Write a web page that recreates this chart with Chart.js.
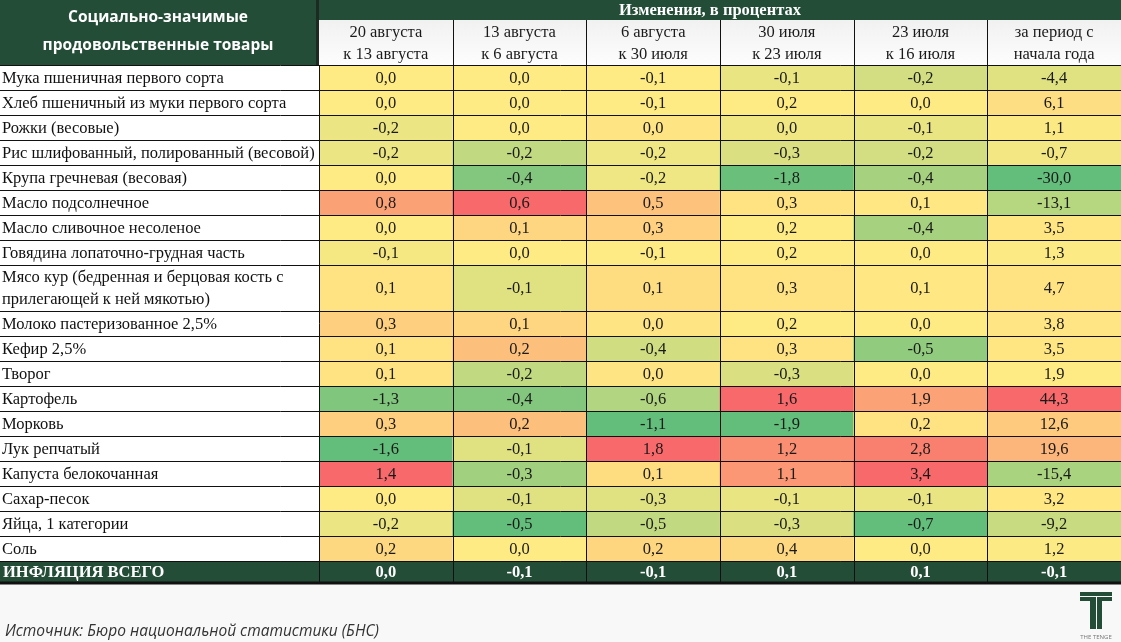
<!DOCTYPE html>
<html><head><meta charset="utf-8">
<script src="https://cdn.jsdelivr.net/npm/chart.js@4.4.1/dist/chart.umd.min.js"></script>
<style>html,body{margin:0;padding:0;background:#f8f8f8;overflow:hidden}#wrap{width:1121px;height:642px;position:relative}canvas{display:block}</style>
</head><body><div id="wrap"><canvas id="c" width="1121" height="642"></canvas></div>
<script>
// ---------- DATA ----------
const headerLeft = ["Социально-значимые", "продовольственные товары"];
const headerTop = "Изменения, в процентах";
const columnHeaders = [
  ["20 августа", "к 13 августа"],
  ["13 августа", "к 6 августа"],
  ["6 августа", "к 30 июля"],
  ["30 июля", "к 23 июля"],
  ["23 июля", "к 16 июля"],
  ["за период с", "начала года"]
];
const products = [
  "Мука пшеничная первого сорта",
  "Хлеб пшеничный из муки первого сорта",
  "Рожки (весовые)",
  "Рис шлифованный, полированный (весовой)",
  "Крупа гречневая (весовая)",
  "Масло подсолнечное",
  "Масло сливочное несоленое",
  "Говядина лопаточно-грудная часть",
  "Мясо кур (бедренная и берцовая кость с\nприлегающей к ней мякотью)",
  "Молоко пастеризованное 2,5%",
  "Кефир 2,5%",
  "Творог",
  "Картофель",
  "Морковь",
  "Лук репчатый",
  "Капуста белокочанная",
  "Сахар-песок",
  "Яйца, 1 категории",
  "Соль"
];
const aug20vsAug13 = [0.0, 0.0, -0.2, -0.2, 0.0, 0.8, 0.0, -0.1, 0.1, 0.3, 0.1, 0.1, -1.3, 0.3, -1.6, 1.4, 0.0, -0.2, 0.2];
const aug13vsAug06 = [0.0, 0.0, 0.0, -0.2, -0.4, 0.6, 0.1, 0.0, -0.1, 0.1, 0.2, -0.2, -0.4, 0.2, -0.1, -0.3, -0.1, -0.5, 0.0];
const aug06vsJul30 = [-0.1, -0.1, 0.0, -0.2, -0.2, 0.5, 0.3, -0.1, 0.1, 0.0, -0.4, 0.0, -0.6, -1.1, 1.8, 0.1, -0.3, -0.5, 0.2];
const jul30vsJul23 = [-0.1, 0.2, 0.0, -0.3, -1.8, 0.3, 0.2, 0.2, 0.3, 0.2, 0.3, -0.3, 1.6, -1.9, 1.2, 1.1, -0.1, -0.3, 0.4];
const jul23vsJul16 = [-0.2, 0.0, -0.1, -0.2, -0.4, 0.1, -0.4, 0.0, 0.1, 0.0, -0.5, 0.0, 1.9, 0.2, 2.8, 3.4, -0.1, -0.7, 0.0];
const sinceYearStart = [-4.4, 6.1, 1.1, -0.7, -30.0, -13.1, 3.5, 1.3, 4.7, 3.8, 3.5, 1.9, 44.3, 12.6, 19.6, -15.4, 3.2, -9.2, 1.2];
const totalLabel = "ИНФЛЯЦИЯ ВСЕГО";
const inflationTotal = [0.0, -0.1, -0.1, 0.1, 0.1, -0.1];
const sourceNote = "Источник: Бюро национальной статистики (БНС)";

// ---------- STYLE / LAYOUT ----------
const columns = [aug20vsAug13, aug13vsAug06, aug06vsJul30, jul30vsJul23, jul23vsJul16, sinceYearStart];
const DARK = "#244d37";
const SERIF = "'Liberation Serif','Times New Roman',serif";
const SANS = "'Open Sans','Noto Sans',sans-serif";
const BODY_FONT = '16.5px ' + SERIF;
const GREEN = [99, 190, 123], YELLOW = [255, 235, 132], RED = [248, 105, 107];
const SINGLE_ROW = 1, DOUBLE_ROW = 1.84, TOTAL_ROW = 0.84;

function mix(a, b, t) { return 'rgb(' + a.map((v, i) => Math.round(v + (b[i] - v) * t)).join(',') + ')'; }
function makeScale(vals) {
  const s = [...vals].sort((a, b) => a - b);
  const min = s[0], max = s[s.length - 1];
  const pos = (s.length - 1) * 0.5, lo = Math.floor(pos);
  const mid = s[lo] + (s[Math.ceil(pos)] - s[lo]) * (pos - lo);
  return v => v <= mid ? mix(YELLOW, GREEN, mid === min ? 0 : (mid - v) / (mid - min))
                       : mix(YELLOW, RED, max === mid ? 0 : (v - mid) / (max - mid));
}
const scales = columns.map(makeScale);
const fmt = v => v.toFixed(1).replace('.', ',');

// row extents in row units
const rowSpans = [];
let acc = 0;
products.forEach(p => { const h = p.includes('\n') ? DOUBLE_ROW : SINGLE_ROW; rowSpans.push([acc, acc + h]); acc += h; });
const totalSpan = [acc, acc + TOTAL_ROW];
const yMax = acc + TOTAL_ROW;

const datasets = products.map((p, r) => ({
  label: p,
  data: columns.map(() => rowSpans[r]),
  cellValues: columns.map(col => col[r]),
  backgroundColor: columns.map((col, c) => scales[c](col[r])),
  isTotal: false
}));
datasets.push({
  label: totalLabel,
  data: columns.map(() => totalSpan),
  cellValues: inflationTotal,
  backgroundColor: DARK,
  isTotal: true
});

const tablePlugin = {
  id: 'table',
  beforeDraw(chart) {
    const ctx = chart.ctx, ca = chart.chartArea, W = chart.width;
    ctx.save();
    ctx.fillStyle = '#f8f8f8';
    ctx.fillRect(0, 0, W, chart.height);
    ctx.fillStyle = '#ffffff';
    ctx.fillRect(0, ca.top, ca.left, ca.bottom - ca.top);
    ctx.fillStyle = DARK;
    ctx.fillRect(0, 0, ca.left, ca.top);
    ctx.fillRect(ca.left, 0, ca.right - ca.left, 20);
    const g = ctx.createLinearGradient(0, 20, 0, ca.top);
    g.addColorStop(0, '#f1f1f1'); g.addColorStop(1, '#fdfdfd');
    ctx.fillStyle = g;
    ctx.fillRect(ca.left, 20, ca.right - ca.left, ca.top - 20);
    const ys = chart.scales.y;
    ctx.fillStyle = DARK;
    ctx.fillRect(0, ys.getPixelForValue(totalSpan[0]), ca.left, ys.getPixelForValue(totalSpan[1]) - ys.getPixelForValue(totalSpan[0]));
    ctx.restore();
  },
  afterDatasetsDraw(chart) {
    const ctx = chart.ctx, ca = chart.chartArea, W = chart.width;
    const xs = chart.scales.x, ys = chart.scales.y;
    ctx.save();
    // cell values
    ctx.textAlign = 'center'; ctx.textBaseline = 'middle';
    chart.data.datasets.forEach((ds, i) => {
      const meta = chart.getDatasetMeta(i);
      ctx.font = (ds.isTotal ? 'bold ' : '') + BODY_FONT;
      ctx.fillStyle = ds.isTotal ? '#ffffff' : '#1a1a1a';
      meta.data.forEach((el, j) => {
        ctx.fillText(fmt(ds.cellValues[j]), el.x, (el.y + el.base) / 2 + 1);
      });
    });
    // row labels
    ctx.textAlign = 'left';
    ctx.font = BODY_FONT;
    ctx.fillStyle = '#111';
    products.forEach((p, r) => {
      const cy = ys.getPixelForValue((rowSpans[r][0] + rowSpans[r][1]) / 2) + 1;
      const lines = p.split('\n');
      lines.forEach((ln, k) => ctx.fillText(ln, 2, cy + (k - (lines.length - 1) / 2) * 22));
    });
    ctx.font = 'bold ' + BODY_FONT;
    ctx.fillStyle = '#ffffff';
    ctx.fillText(totalLabel, 3, ys.getPixelForValue((totalSpan[0] + totalSpan[1]) / 2) + 1);

    // grid lines
    ctx.strokeStyle = '#111'; ctx.lineWidth = 1;
    ctx.beginPath();
    const bounds = [0, ...rowSpans.map(s => s[1])];
    bounds.forEach(b => { const y = Math.round(ys.getPixelForValue(b)) + 0.5; ctx.moveTo(0, y); ctx.lineTo(W, y); });
    const n = columns.length;
    const colW = (ca.right - ca.left) / n;
    for (let c = 0; c < n; c++) {
      const x = Math.round(xs.getPixelForValue(c) - colW / 2) + 0.5;
      ctx.moveTo(x, c === 0 ? ca.top : 20); ctx.lineTo(x, ca.bottom);
    }
    ctx.stroke();
    // separator inside header
    ctx.lineWidth = 3;
    ctx.strokeStyle = '#1c2a22';
    ctx.beginPath();
    ctx.moveTo(ca.left - 1.5, 0); ctx.lineTo(ca.left - 1.5, ca.top);
    ctx.stroke();
    ctx.strokeStyle = '#111';
    ctx.beginPath();
    ctx.moveTo(0, ca.bottom + 1); ctx.lineTo(W, ca.bottom + 1);
    ctx.stroke();

    // header text
    ctx.textAlign = 'center'; ctx.textBaseline = 'middle';
    ctx.fillStyle = '#ffffff';
    ctx.font = 'bold 15.5px ' + SANS;
    ctx.fillText(headerLeft[0], (ca.left - 3) / 2, 18);
    ctx.fillText(headerLeft[1], (ca.left - 3) / 2, 46);
    ctx.font = 'bold 16.5px ' + SERIF;
    ctx.fillText(headerTop, (ca.left + ca.right) / 2 - 10, 11);
    ctx.font = BODY_FONT;
    ctx.fillStyle = '#1a1a1a';
    columnHeaders.forEach((h, c) => {
      const x = xs.getPixelForValue(c);
      ctx.fillText(h[0], x, 33);
      ctx.fillText(h[1], x, 55);
    });

    // source note
    ctx.textAlign = 'left';
    ctx.font = 'italic 15.5px ' + SANS;
    ctx.fillStyle = '#333';
    ctx.fillText(sourceNote, 5, 632);

    // logo
    ctx.fillStyle = DARK;
    ctx.fillRect(1080, 592, 32, 9);
    ctx.fillRect(1090, 601, 12, 28);
    ctx.strokeStyle = '#f8f8f8'; ctx.lineWidth = 1;
    ctx.beginPath();
    ctx.moveTo(1080, 596.5); ctx.lineTo(1112, 596.5);
    ctx.moveTo(1096.5, 596.5); ctx.lineTo(1096.5, 629);
    ctx.stroke();
    ctx.textAlign = 'center';
    ctx.font = '6px ' + SANS;
    ctx.fillStyle = '#777';
    ctx.fillText('THE TENGE', 1096, 637);
    ctx.restore();
  }
};

new Chart(document.getElementById('c'), {
  type: 'bar',
  data: { labels: columnHeaders.map(h => h.join(' ')), datasets },
  options: {
    responsive: false,
    devicePixelRatio: 1,
    animation: false,
    layout: { padding: { left: 319, top: 65, right: 0, bottom: 60 } },
    plugins: { legend: { display: false }, tooltip: { enabled: false } },
    datasets: { bar: { grouped: false, categoryPercentage: 1, barPercentage: 1, borderWidth: 0, borderSkipped: false } },
    scales: {
      x: { type: 'category', display: false, offset: true },
      y: { type: 'linear', display: false, reverse: true, min: 0, max: yMax }
    }
  },
  plugins: [tablePlugin]
});
</script>
</body></html>
